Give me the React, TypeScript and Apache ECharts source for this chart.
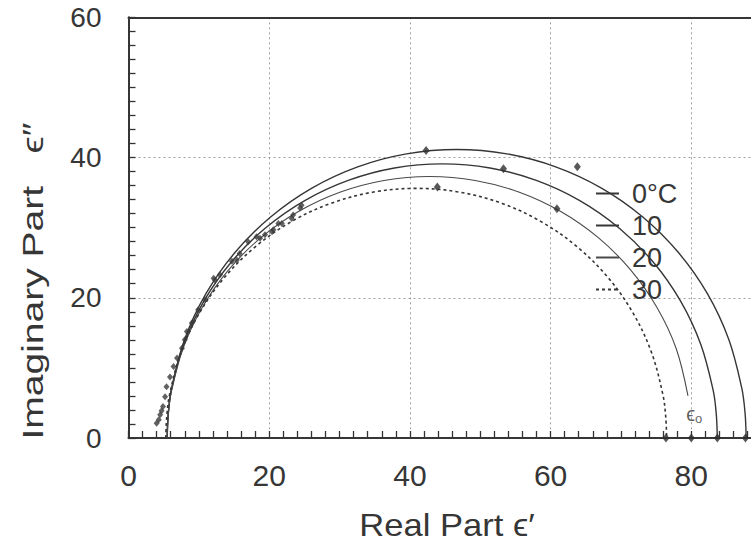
import React, { useEffect, useRef } from "react";
import * as echarts from "echarts";

// Legend / series names
const seriesNames = ["0°C", "10", "20", "30"];

// Cole-Cole curves: [ε', ε'']
const curve0C: number[][] = [
  [5.5, 0], [5.66, 3.59], [6.13, 7.14], [7.98, 14.07], [11.01, 20.58], [15.13, 26.45],
  [20.2, 31.52], [26.07, 35.64], [32.58, 38.67], [39.51, 40.52], [46.65, 41.15],
  [53.79, 40.52], [60.72, 38.67], [67.23, 35.64], [73.1, 31.52], [78.17, 26.45],
  [82.29, 20.58], [85.32, 14.07], [87.17, 7.14], [87.64, 3.59], [87.8, 0],
];
const curve10C: number[][] = [
  [5.5, 0], [5.65, 3.41], [6.09, 6.79], [7.86, 13.37], [10.74, 19.55], [14.65, 25.13],
  [19.47, 29.95], [25.05, 33.86], [31.23, 36.74], [37.81, 38.51], [44.6, 39.1],
  [51.39, 38.51], [57.97, 36.74], [64.15, 33.86], [69.73, 29.95], [74.55, 25.13],
  [78.46, 19.55], [81.34, 13.37], [83.11, 6.79], [83.55, 3.41], [83.7, 0],
];
const curve20C: number[][] = [
  [5.5, 0], [5.64, 3.25], [6.07, 6.48], [7.75, 12.76], [10.5, 18.65], [14.23, 23.98],
  [18.82, 28.57], [24.15, 32.3], [30.04, 35.05], [36.32, 36.73], [42.8, 37.3],
  [49.28, 36.73], [55.56, 35.05], [61.45, 32.3], [66.78, 28.57], [71.37, 23.98],
  [75.1, 18.65], [77.85, 12.76], [79.53, 6.0],
];
const curve30C: number[][] = [
  [5.3, 0], [5.44, 3.1], [5.84, 6.18], [7.45, 12.18], [10.07, 17.8], [13.63, 22.88],
  [18.02, 27.27], [23.1, 30.83], [28.72, 33.45], [34.72, 35.06], [40.9, 35.6],
  [47.08, 35.06], [53.12, 33.45], [58.7, 30.83], [63.78, 27.27], [68.17, 22.88],
  [71.73, 17.8], [74.35, 12.18], [75.96, 6.18], [76.36, 3.1], [76.5, 0],
];

// Dense measured points (low-frequency side)
const measured: number[][] = [
  [4.0, 2.1], [4.3, 2.6], [4.5, 3.3], [4.7, 3.9], [4.9, 4.5], [5.2, 5.9], [5.4, 7.3],
  [5.9, 8.7], [6.4, 10.2], [6.9, 11.4], [7.6, 12.8], [8.0, 14.0], [8.3, 15.2],
  [9.0, 16.4], [9.9, 18.3], [10.9, 19.7], [12.1, 22.8], [12.3, 22.5], [13.0, 23.3],
  [14.7, 25.2], [15.4, 25.4], [15.8, 26.3], [17.0, 28.0], [18.2, 28.7], [18.7, 28.5],
  [19.4, 29.0], [20.4, 29.4], [20.6, 29.7], [21.3, 30.6], [21.8, 30.6], [23.2, 31.3],
  [23.4, 31.8], [24.4, 32.8], [24.6, 33.2],
];
// Isolated diamonds
const diamonds: number[][] = [
  [42.3, 41.0], [53.3, 38.4], [63.8, 38.7], [60.9, 32.7], [43.9, 35.8],
];
// Static permittivities on the axis
const staticPoints: number[][] = [[76.4, 0], [80.0, 0], [83.7, 0], [87.7, 0]];

// Axis texts
const xAxisTitle = "Real Part ϵ′";
const yAxisTitle = "Imaginary Part   ϵ″";

const X_MIN = 0;
const X_MAX = 90;
const Y_MIN = 0;
const Y_MAX = 60;
const LABEL_STEP = 20;
const MINOR_STEP = 2;

const INK = "#363636";
const FONT = "'Liberation Sans', Arial, Helvetica, sans-serif";

export default function App() {
  const ref = useRef<HTMLDivElement>(null);
  useEffect(() => {
    if (!ref.current) return;
    const chart = echarts.init(ref.current, undefined, { renderer: "svg" });
    const gridLeft = 128.5;
    const gridTop = 17.3;
    const gridBottom = 110;
    const plotW = 7.035 * (X_MAX - X_MIN);
    const gridRight = 751 - gridLeft - plotW;

    const lineSeries = (name: string, data: number[][], style: any) => ({
      name,
      type: "line",
      data,
      smooth: 0.35,
      symbol: "none",
      lineStyle: style,
      itemStyle: { color: style.color },
      z: 3,
    });

    const majorOnly = (v: number) => (Math.abs(v % LABEL_STEP) < 1e-6 ? String(v) : "");

    chart.setOption({
      animation: false,
      backgroundColor: "#ffffff",
      textStyle: { fontFamily: FONT, color: INK },
      grid: {
        left: gridLeft,
        right: gridRight,
        top: gridTop,
        bottom: gridBottom,
        outerBoundsMode: "none",
      },
      legend: {
        data: seriesNames,
        orient: "vertical",
        left: 590,
        top: 175,
        itemWidth: 23,
        itemHeight: 12,
        itemGap: 5,
        selectedMode: false,
        itemStyle: { opacity: 0 },
        textStyle: { fontSize: 27, color: INK, fontFamily: FONT, lineHeight: 27, padding: [0, 0, 0, 8] },
      },
      graphic: [
        {
          type: "text",
          x: 447,
          y: 525,
          scaleX: 1.08,
          style: {
            text: xAxisTitle,
            fontSize: 32,
            fontFamily: FONT,
            fill: INK,
            align: "center",
            verticalAlign: "middle",
          },
        },
        {
          type: "text",
          x: 33,
          y: 281,
          rotation: Math.PI / 2,
          scaleX: 1.3,
          style: {
            text: yAxisTitle,
            fontSize: 30,
            fontFamily: FONT,
            fill: INK,
            align: "center",
            verticalAlign: "middle",
          },
        },
      ],
      xAxis: [
        {
          type: "value",
          min: X_MIN,
          max: X_MAX,
          interval: MINOR_STEP,
          axisLine: { show: true, lineStyle: { color: INK, width: 2 } },
          axisTick: { show: true, inside: true, length: 7, lineStyle: { color: "#333333", width: 1.3 } },
          axisLabel: {
            fontSize: 30,
            color: INK,
            margin: 22,
            fontFamily: FONT,
            showMaxLabel: false,
            formatter: majorOnly,
          },
          splitLine: { show: false },
        },
        {
          type: "value",
          position: "top",
          min: X_MIN,
          max: X_MAX,
          interval: LABEL_STEP,
          axisLine: { show: true, onZero: false, lineStyle: { color: INK, width: 2 } },
          axisTick: { show: false },
          axisLabel: { show: false },
          splitLine: { show: true, lineStyle: { color: "#a0a0a0", type: [2, 3], width: 1 } },
        },
      ],
      yAxis: [
        {
          type: "value",
          min: Y_MIN,
          max: Y_MAX,
          interval: MINOR_STEP,
          axisLine: { show: true, lineStyle: { color: INK, width: 2 } },
          axisTick: { show: true, inside: true, length: 7, lineStyle: { color: "#333333", width: 1.3 } },
          axisLabel: {
            fontSize: 28,
            color: INK,
            margin: 27,
            fontFamily: FONT,
            padding: [5, 0, 0, 0],
            formatter: majorOnly,
          },
          splitLine: { show: false },
        },
        {
          type: "value",
          position: "right",
          min: Y_MIN,
          max: Y_MAX,
          interval: LABEL_STEP,
          axisLine: { show: false, onZero: false },
          axisTick: { show: false },
          axisLabel: { show: false },
          splitLine: { show: true, lineStyle: { color: "#a0a0a0", type: [2, 3], width: 1 } },
        },
      ],
      series: [
        lineSeries(seriesNames[0], curve0C, { color: INK, width: 1.4, type: "solid" }),
        lineSeries(seriesNames[1], curve10C, { color: INK, width: 1.4, type: "solid" }),
        lineSeries(seriesNames[2], curve20C, { color: "#4a4a4a", width: 1.1, type: "solid" }),
        lineSeries(seriesNames[3], curve30C, { color: INK, width: 1.6, type: [3, 3] }),
        {
          name: "measured",
          type: "scatter",
          data: measured,
          symbol: "diamond",
          symbolSize: [6, 7],
          itemStyle: { color: "#3a3a3a" },
          z: 4,
        },
        {
          name: "diamonds",
          type: "scatter",
          data: diamonds,
          symbol: "diamond",
          symbolSize: [7, 9],
          itemStyle: { color: "#2e2e2e" },
          z: 4,
        },
        {
          name: "static",
          type: "scatter",
          data: staticPoints.map((p, i) => ({
            value: p,
            label:
              i === 1
                ? {
                    show: true,
                    position: "top",
                    distance: 9,
                    offset: [3, 0],
                    formatter: "{e|ϵ}{s|o}",
                    rich: {
                      e: { fontSize: 20, color: INK, fontFamily: FONT },
                      s: { fontSize: 13, color: INK, fontFamily: FONT, padding: [9, 0, 0, 0] },
                    },
                  }
                : { show: false },
          })),
          symbol: "diamond",
          symbolSize: [7, 9],
          itemStyle: { color: "#2e2e2e" },
          z: 4,
        },
        {
          name: "einf",
          type: "scatter",
          data: [
            {
              value: [5.5, 0],
              label: {
                show: true,
                position: "bottom",
                distance: 10,
                formatter: "{e|ϵ}{s|∞}",
                rich: {
                  e: { fontSize: 20, color: INK, fontFamily: FONT },
                  s: { fontSize: 14, color: INK, fontFamily: FONT, padding: [9, 0, 0, 0] },
                },
              },
            },
          ],
          symbol: "none",
          symbolSize: 0,
          silent: true,
        },
      ],
    });
    return () => chart.dispose();
  }, []);
  return <div ref={ref} style={{ width: 751, height: 548, position: "absolute", left: 0, top: 0 }} />;
}
